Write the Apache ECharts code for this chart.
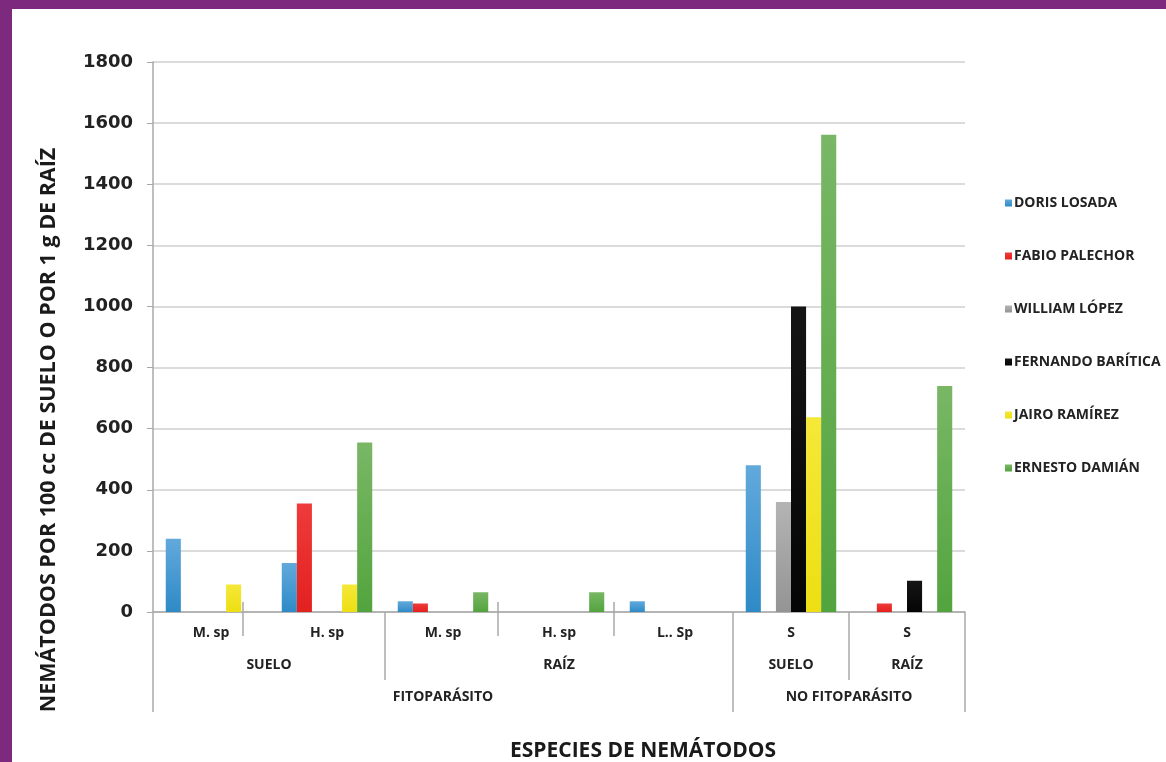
<!DOCTYPE html>
<html>
<head>
<meta charset="utf-8">
<title>Especies de nemátodos</title>
<script src="https://cdn.jsdelivr.net/npm/echarts@6/dist/echarts.min.js"></script>
<style>
  html, body { margin: 0; padding: 0; background: #fff; }
  #chart { position: absolute; left: 0; top: 0; width: 1166px; height: 762px; }
  .frame-top { position: absolute; left: 0; top: 0; width: 1166px; height: 9px; background: #7d2a7e; z-index: 5; }
  .frame-left { position: absolute; left: 0; top: 0; width: 12px; height: 762px; background: #7d2a7e; z-index: 5; }
</style>
</head>
<body>
<div id="chart"></div>
<div class="frame-top"></div>
<div class="frame-left"></div>
<script>
// categorias (nivel 1 = especie)
const species = ["M. sp", "H. sp", "M. sp", "H. sp", "L.. Sp", "S", "S"];
// nivel 2 y nivel 3: [nombre, indice inicial, indice final]
const level2 = [["SUELO", 0, 1], ["RAÍZ", 2, 4], ["SUELO", 5, 5], ["RAÍZ", 6, 6]];
const level3 = [["FITOPARÁSITO", 0, 4], ["NO FITOPARÁSITO", 5, 6]];

const yTicks = [0, 200, 400, 600, 800, 1000, 1200, 1400, 1600, 1800];

const doris = [240, 160, 35, 0, 35, 480, 0];
const fabio = [0, 355, 28, 0, 0, 0, 28];
const william = [0, 0, 0, 0, 0, 360, 0];
const fernando = [0, 0, 0, 0, 0, 1000, 102];
const jairo = [90, 90, 0, 0, 0, 637, 0];
const ernesto = [0, 555, 65, 65, 0, 1562, 740];

const names = ["DORIS LOSADA", "FABIO PALECHOR", "WILLIAM LÓPEZ", "FERNANDO BARÍTICA", "JAIRO RAMÍREZ", "ERNESTO DAMIÁN"];
const seriesData = [doris, fabio, william, fernando, jairo, ernesto];
const colors = [
  ["#62a9dc", "#2e8ac6"],
  ["#ee3b3b", "#e3211f"],
  ["#b4b4b4", "#949494"],
  ["#151515", "#050505"],
  ["#f5e838", "#eddf12"],
  ["#79b765", "#52a43e"],
];

const FONT = "'Open Sans', sans-serif";
const yTitle = "NEMÁTODOS POR 100 cc DE SUELO O POR 1 g DE RAÍZ";

const chart = echarts.init(document.getElementById("chart"));

const option = {
  animation: false,
  grid: { left: 153, right: 201, top: 62, bottom: 150 },
  legend: {
    orient: "vertical",
    left: 1000,
    top: 191,
    itemGap: 39,
    itemWidth: 7,
    itemHeight: 7,
    icon: "rect",
    textStyle: { fontFamily: FONT, fontWeight: "bold", fontSize: 14, color: "#222", padding: [0, 0, 0, -3] },
    data: names,
  },
  title: {
    text: "ESPECIES DE NEMÁTODOS",
    left: 638,
    top: 736,
    textAlign: "center",
    textStyle: { fontFamily: FONT, fontWeight: "bold", fontSize: 21, color: "#1a1a1a" },
  },
  xAxis: {
    type: "category",
    data: species,
    axisLine: { lineStyle: { color: "#a8a8a8", width: 1.5 } },
    axisTick: { show: false },
    axisLabel: { margin: 14, fontFamily: FONT, fontWeight: "bold", fontSize: 14, color: "#222" },
  },
  yAxis: {
    type: "value",
    min: 0,
    max: 1800,
    interval: 200,
    axisLine: { show: true, lineStyle: { color: "#a8a8a8", width: 1.5 } },
    axisTick: { show: true, inside: false, length: 6, lineStyle: { color: "#a8a8a8" } },
    axisLabel: {
      margin: 20,
      fontFamily: "'DejaVu Sans', sans-serif",
      fontWeight: "bold",
      fontSize: 18,
      color: "#222",
      formatter: (v) => (yTicks.includes(v) ? String(v) : ""),
    },
    splitLine: { lineStyle: { color: "#cfcfcf", width: 1.5 } },
  },
  series: names.map((n, i) => ({
    name: n,
    type: "bar",
    data: seriesData[i],
    barGap: "0%",
    barCategoryGap: "22%",
    itemStyle: {
      color: new echarts.graphic.LinearGradient(0, 0, 0, 1, [
        { offset: 0, color: colors[i][0] },
        { offset: 1, color: colors[i][1] },
      ]),
    },
  })),
};
// legend icons use the solid colour
option.color = colors.map((c) => c[1]);
chart.setOption(option);

// separadores y etiquetas de niveles 2 y 3, posicionados con la escala del eje
function drawLevels() {
  const p0 = chart.convertToPixel({ xAxisIndex: 0 }, 0);
  const p1 = chart.convertToPixel({ xAxisIndex: 0 }, 1);
  const band = p1 - p0;
  const edge = (i) => p0 - band / 2 + i * band; // borde izquierdo de la categoria i
  const axisY = chart.convertToPixel({ yAxisIndex: 0 }, 0);
  const lineStyle = { stroke: "#a8a8a8", lineWidth: 1.5 };
  const textStyle = { fontFamily: FONT, fontWeight: "bold", fontSize: 14, fill: "#222" };
  const elements = [];
  const vline = (x, y1, y2) =>
    elements.push({ type: "line", shape: { x1: x, y1: y1, x2: x, y2: y2 }, style: lineStyle, silent: true });

  // titulo del eje y
  elements.push({
    type: "text",
    x: 49,
    y: 430,
    rotation: Math.PI / 2,
    style: { text: yTitle, fontFamily: FONT, fontWeight: "bold", fontSize: 21.5, fill: "#1a1a1a", align: "center", verticalAlign: "middle" },
  });

  // bordes exteriores y entre grupos de nivel 3
  vline(edge(0), axisY, axisY + 100);
  vline(edge(species.length), axisY, axisY + 100);
  level3.forEach((g, k) => {
    if (k > 0) vline(edge(g[1]), axisY, axisY + 100);
    elements.push({
      type: "text",
      style: Object.assign({ text: g[0], x: (edge(g[1]) + edge(g[2] + 1)) / 2, y: axisY + 85, align: "center", verticalAlign: "middle" }, textStyle),
    });
  });
  // grupos de nivel 2
  level2.forEach((g, k) => {
    if (k > 0 && !level3.some((h) => h[1] === g[1])) vline(edge(g[1]), axisY, axisY + 68);
    elements.push({
      type: "text",
      style: Object.assign({ text: g[0], x: (edge(g[1]) + edge(g[2] + 1)) / 2, y: axisY + 53, align: "center", verticalAlign: "middle" }, textStyle),
    });
    // marcas cortas entre especies dentro del grupo
    for (let i = g[1] + 1; i <= g[2]; i++) vline(edge(i) - (i === 1 ? 26 : 3), axisY - 10, axisY + 24);
  });
  chart.setOption({ graphic: { elements: elements } });
}
drawLevels();
</script>
</body>
</html>
